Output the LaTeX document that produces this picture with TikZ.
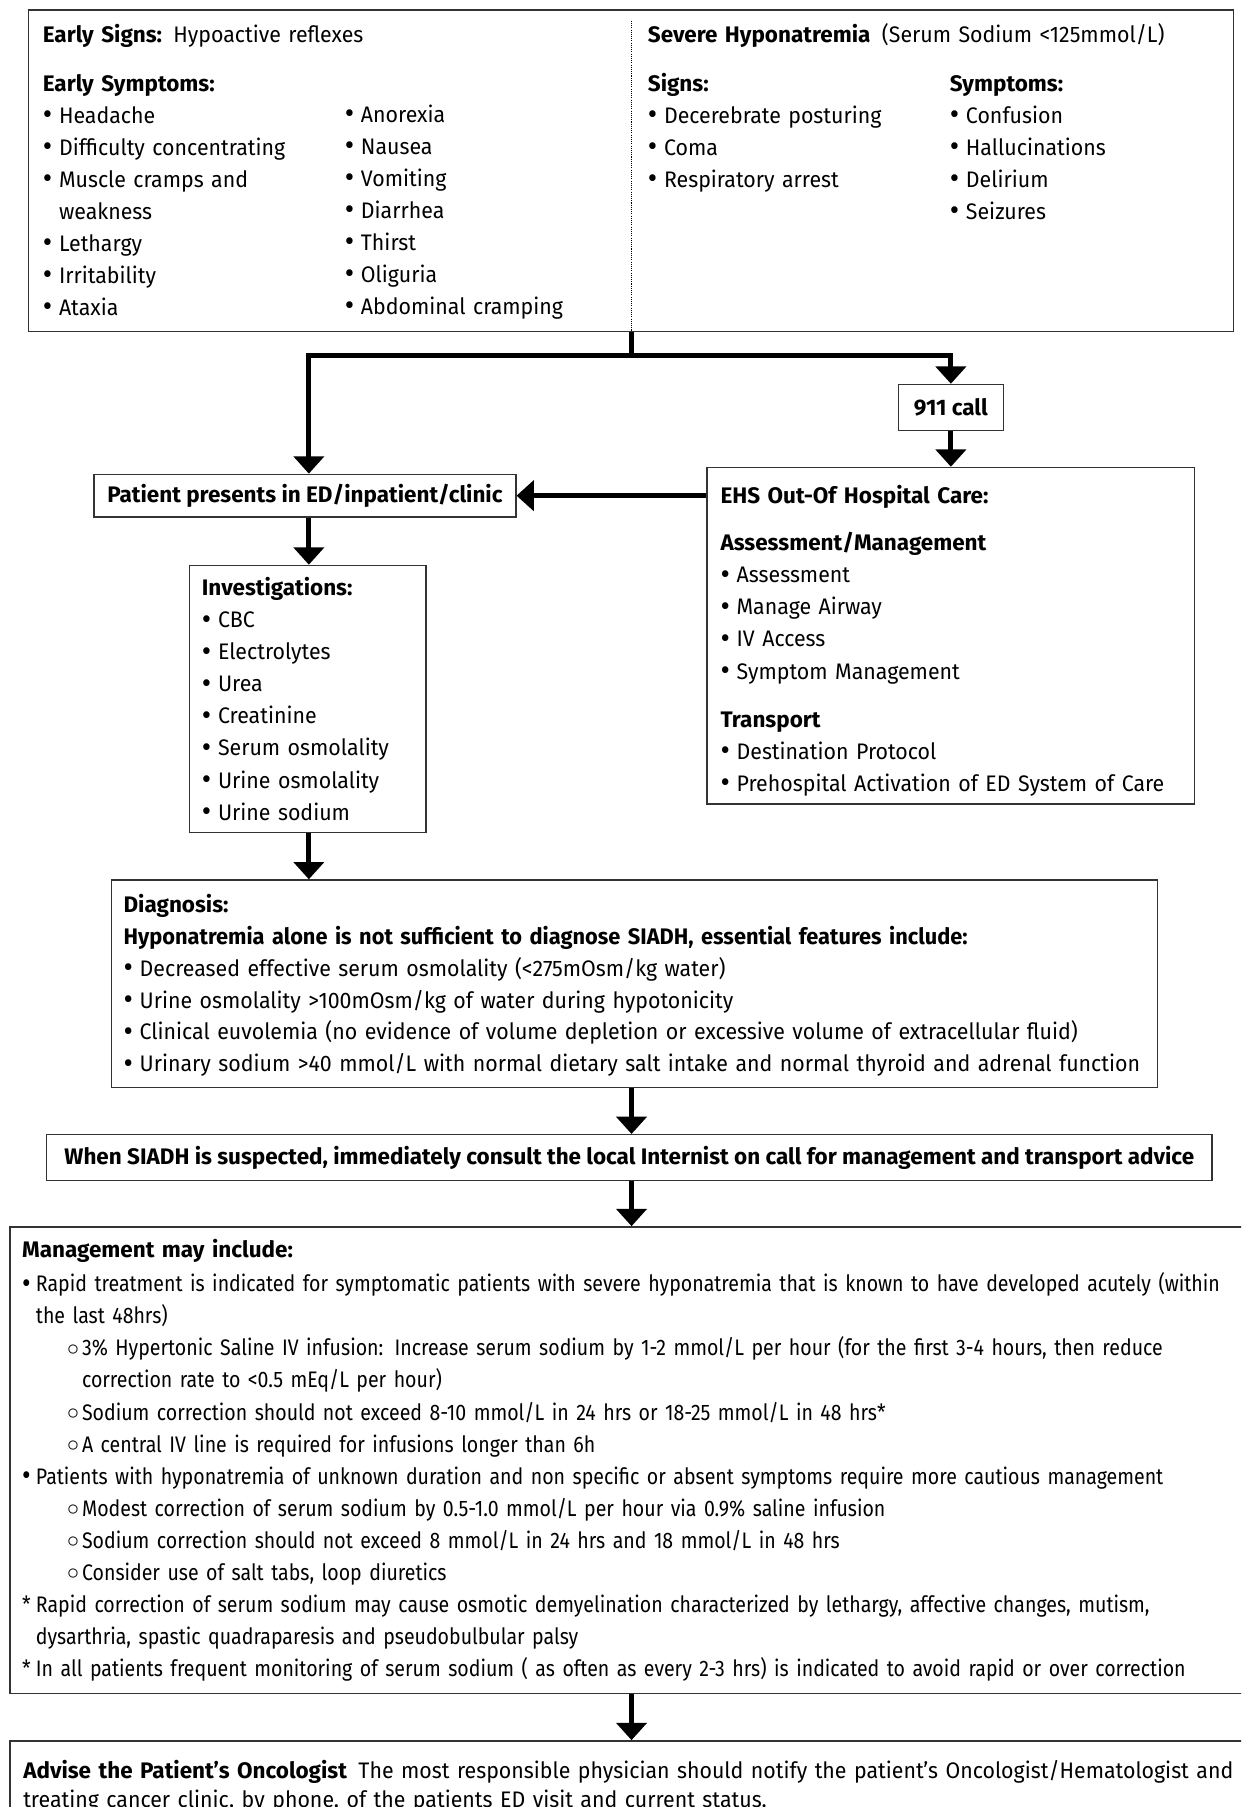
\documentclass[tikz,border=0pt]{standalone}
\usepackage{fontspec}
\setmainfont{Fira Sans}[FakeStretch=0.95]
\newfontfamily\bdfam{Fira Sans}
\newfontfamily\bdcfam{Fira Sans}[FakeStretch=0.97]
\newfontfamily\mgfam{Fira Sans}[FakeStretch=0.87]
\usetikzlibrary{arrows.meta,calc}
\newcommand\B[1]{{\bdfam\bfseries #1}}
\newcommand\fs{\fontsize{19.5}{27.8}\selectfont}
\newcommand\bigbul{\raisebox{-1.2pt}{\scalebox{1.35}{\textbullet}}}
\newcommand\bl{\makebox[14pt][l]{\bigbul}}
\newcommand\bm{\makebox[12pt][l]{\bigbul}}
\newcommand\cb{\makebox[13pt][l]{\raisebox{0.5pt}{$\circ$}}}
\tikzset{
  box/.style={draw=black!80, line width=1.2pt, inner sep=0pt, anchor=north west, font=\fs\bdfam\bfseries},
  txt/.style={anchor=base west, inner sep=0pt, align=left, text width=1150pt, font=\fs},
  arr/.style={line width=4.5pt, line join=miter, -{Triangle[width=26pt,length=15pt]}},
  ln/.style={line width=4.5pt},
}
\begin{document}
\begin{tikzpicture}[x=1pt,y=-1pt]
\useasboundingbox (0,0) rectangle (1077,1568);
\clip (0,0) rectangle (1077,1568);
% boxes
\node[box, minimum width=1046pt, minimum height=279pt] (top) at (24,8) {};
\node[box, minimum width=91pt, minimum height=40pt] (b911) at (779,333) {911 call};
\node[box, minimum width=366pt, minimum height=37pt] (pat) at (81,411) {Patient presents in ED/inpatient/clinic};
\node[box, minimum width=423pt, minimum height=292pt] (ehs) at (613,405) {};
\node[box, minimum width=205pt, minimum height=232pt] (inv) at (164,490) {};
\node[box, minimum width=908pt, minimum height=180pt] (diag) at (96,763) {};
\node[box, minimum width=1011pt, minimum height=40pt] (siadh) at (40,984) {When SIADH is suspected, immediately consult the local Internist on call for management and transport advice};
\node[box, minimum width=1080pt, minimum height=405pt] (mgmt) at (8,1064) {};
\node[box, minimum width=1080pt, minimum height=80pt] (adv) at (8,1510) {};
\coordinate (lx) at (268,0);
\coordinate (cx) at (548,0);
% dotted divider
\draw[densely dotted, line width=0.9pt] ($(top.north -| cx)+(0,10)$) coordinate (dtop) -- (top.south -| cx);
% connectors
\draw[ln] (top.south -| cx) -- ++(0,20) coordinate (split);
\draw[arr] (split) -| (pat.north -| lx);
\draw[arr] (split) -| (b911.north);
\draw[arr] (b911.south) -- (ehs.north);
\draw[arr] (pat.east -| ehs.west) -- (pat.east);
\draw[arr] (pat.south -| lx) -- (inv.north -| lx);
\draw[arr] (inv.south -| lx) -- (diag.north -| lx);
\draw[arr] (diag.south -| cx) -- (siadh.north -| cx);
\draw[arr] (siadh.south -| cx) -- (mgmt.north -| cx);
\draw[arr] (mgmt.south -| cx) -- (adv.north -| cx);
% top box text
\node[txt] (es) at (37,37) {\B{Early Signs:} Hypoactive reflexes};
\node[txt] (esy) at (37,79) {\B{Early Symptoms:}\\
\bl Headache\\ \bl Difficulty concentrating\\ \bl Muscle cramps and\\ \hspace*{14pt}weakness\\
\bl Lethargy\\ \bl Irritability\\ \bl Ataxia};
\node[txt] (esy2) at (299,106) {\bl Anorexia\\ \bl Nausea\\ \bl Vomiting\\ \bl Diarrhea\\ \bl Thirst\\ \bl Oliguria\\ \bl Abdominal cramping};
\node[txt] (sev) at (562,37) {\B{Severe Hyponatremia}\hspace{10pt}(Serum Sodium <125mmol/L)};
\node[txt] (sgn) at (562,79) {\B{Signs:}\\ \bl Decerebrate posturing\\ \bl Coma\\ \bl Respiratory arrest};
\node[txt] (sym) at (824,79) {\B{Symptoms:}\\ \bl Confusion\\ \bl Hallucinations\\ \bl Delirium\\ \bl Seizures};
% EHS text
\node[txt] (ehs1) at (625,437) {\B{EHS Out-Of Hospital Care:}};
\node[txt] (ehs2) at (625,478) {\B{Assessment/Management}\\ \bl Assessment\\ \bl Manage Airway\\ \bl IV Access\\ \bl Symptom Management};
\node[txt] (ehs3) at (625,631) {\B{Transport}\\ \bl Destination Protocol\\ \bl Prehospital Activation of ED System of Care};
% investigations
\node[txt] (invt) at (175,517) {\B{Investigations:}\\ \bl CBC\\ \bl Electrolytes\\ \bl Urea\\ \bl Creatinine\\ \bl Serum osmolality\\ \bl Urine osmolality\\ \bl Urine sodium};
% diagnosis
\node[txt, font=\fontsize{19.5}{27.6}\selectfont] (diagt) at (107,792) {\B{Diagnosis:}\\
{\bdcfam\bfseries Hyponatremia alone is not sufficient to diagnose SIADH, essential features include:}\\
\bl Decreased effective serum osmolality (<275mOsm/kg water)\\
\bl Urine osmolality >100mOsm/kg of water during hypotonicity\\
\bl Clinical euvolemia (no evidence of volume depletion or excessive volume of extracellular fluid)\\
\bl Urinary sodium >40 mmol/L with normal dietary salt intake and normal thyroid and adrenal function};
% management
\node[txt] (mg1) at (19,1091) {\B{Management may include:}};
\node[txt, font=\fs\mgfam] (mg2) at (19,1121) {%
\bm Rapid treatment is indicated for symptomatic patients with severe hyponatremia that is known to have developed acutely (within\\
\hspace*{12pt}the last 48hrs)\\
\hspace*{39pt}\cb 3\% Hypertonic Saline IV infusion: Increase serum sodium by 1-2 mmol/L per hour (for the first 3-4 hours, then reduce\\
\hspace*{52pt}correction rate to <0.5 mEq/L per hour)\\
\hspace*{39pt}\cb Sodium correction should not exceed 8-10 mmol/L in 24 hrs or 18-25 mmol/L in 48 hrs*\\
\hspace*{39pt}\cb A central IV line is required for infusions longer than 6h\\
\bm Patients with hyponatremia of unknown duration and non specific or absent symptoms require more cautious management\\
\hspace*{39pt}\cb Modest correction of serum sodium by 0.5-1.0 mmol/L per hour via 0.9\% saline infusion\\
\hspace*{39pt}\cb Sodium correction should not exceed 8 mmol/L in 24 hrs and 18 mmol/L in 48 hrs\\
\hspace*{39pt}\cb Consider use of salt tabs, loop diuretics\\
\makebox[12pt][l]{*}Rapid correction of serum sodium may cause osmotic demyelination characterized by lethargy, affective changes, mutism,\\
\hspace*{12pt}dysarthria, spastic quadraparesis and pseudobulbular palsy\\
\makebox[12pt][l]{*}In all patients frequent monitoring of serum sodium ( as often as every 2-3 hrs) is indicated to avoid rapid or over correction};
% advise
\node[txt, font=\fontsize{19.5}{25.5}\selectfont] (advt) at (20,1543) {\B{Advise the Patient’s Oncologist}\hspace{10pt}The most responsible physician should notify the patient’s Oncologist/Hematologist and\\
treating cancer clinic, by phone, of the patients ED visit and current status.};
\end{tikzpicture}
\end{document}
